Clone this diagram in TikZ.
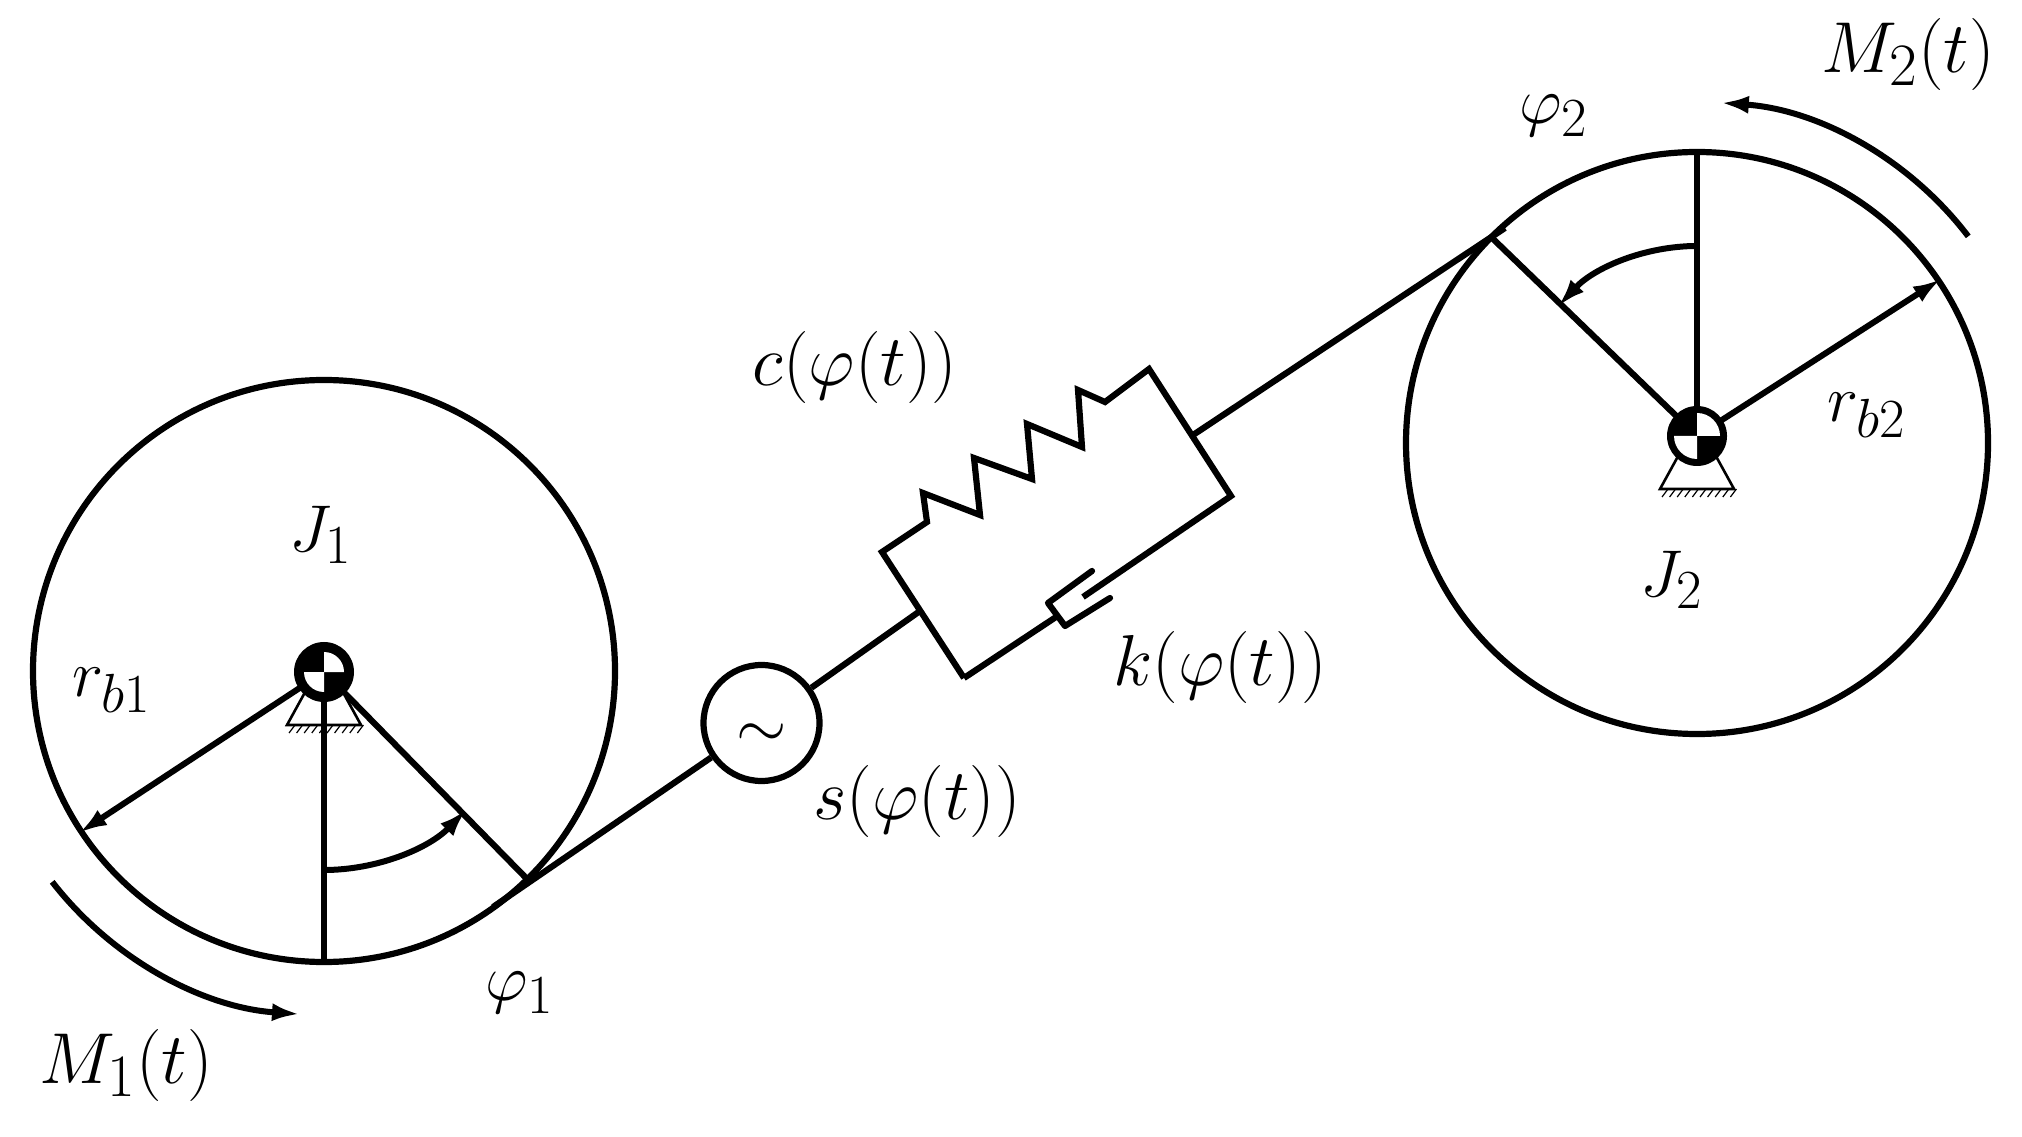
\documentclass[tikz,border=0pt]{standalone}
\usetikzlibrary{arrows.meta}
\newcommand{\RW}{291}
\newcommand{\RM}{344}
\tikzset{
    bar/.style={line width=3.1pt,line join=miter},
    tipline/.style={line width=3pt,-{Latex[length=14pt,width=9pt]}},
    thinline/.style={line width=0.6pt},
    lbl/.style={inner sep=0pt,font=\Huge,scale=1.33},
    lblwide/.style={lbl,scale=1.09},
    source/.style={circle,draw,fill=white,line width=3.1pt,minimum size=58pt,inner sep=0pt,font=\Huge,text height=24pt,text depth=0pt}
}

\begin{document}
\begin{tikzpicture}[x=0.5pt,y=0.5pt]
        \useasboundingbox (0,0) rectangle (2022,1136);
        \path (324,465) coordinate (W1);
        \path (1697,693) coordinate (W2);
        \path (324,464) coordinate (H1);
        \path (1697,700) coordinate (H2);

        \path (493,229) coordinate (T1);
        \path (1505,908) coordinate (T2);
        \path (79,303) coordinate (P1);
        \path (1941,857) coordinate (P2);
        \path (324,174) coordinate (V1);
        \path (1697,984) coordinate (V2);
        \path (530,254) coordinate (Q1);
        \path (1490,900) coordinate (Q2);

        \path (882,584) coordinate (A);
        \path (964,458) coordinate (B);
        \path (1231,640) coordinate (C);
        \path (1149,767) coordinate (D);
        \path (920,525) coordinate (JL);
        \path (1193,701) coordinate (JR);

        % wheels
        \draw [bar] (W1) circle (\RW);
        \draw [bar] (W2) circle (\RW);

        % radii
        \draw [bar] (H1) -- (V1);
        \draw [bar] (H1) -- (Q1);
        \draw [bar] (H2) -- (V2);
        \draw [bar] (H2) -- (Q2);
        \draw [tipline] (H1) -- (P1);
        \draw [tipline] (H2) -- (P2);

        % angles
        \draw [tipline] (H1) ++(-90:198) arc (-90:-44:198);
        \draw [tipline] (H2) ++(90:190) arc (90:137:190);

        % torques
        \draw [tipline] (W1) ++(217.8:\RM) arc (217.8:266:\RM);
        \draw [tipline] (W2) ++(37.3:341) arc (37.3:86:341);

        % supports and hubs
        \foreach \H in {H1,H2} {
            \draw [fill=white,line width=1.3pt] (\H) ++(-37,-53) -- ++(74,0) -- ++(-22,40) -- ++(-30,0) -- cycle;
            \foreach \X in {0,...,9} {
                \draw [thinline] (\H) ++(-29+\X*7.6,-53) -- ++(-6,-8);
            }
        }
        \draw [bar] (H1) -- (V1);
        \foreach \H/\Q in {H1/20,H2/23} {
            \fill (\H) circle (30);
            \fill [white] (\H) -- ++(\Q,0) arc (0:90:\Q) -- cycle;
            \fill [white] (\H) -- ++(-\Q,0) arc (180:270:\Q) -- cycle;
        }

        % belt
        \node [source] (S) at (761.5,413) {\scalebox{1.3}{$\sim$}};
        \draw [bar] (T1) -- (S);
        \draw [bar] (S) -- (JL);
        \draw [bar] (JR) -- (T2);

        % spring
        \draw [bar] (B) -- (A) -- (927,614) -- (923,643) -- (980,621) -- (974,678)
            -- (1032,657) -- (1027,712) -- (1082,689) -- (1078,746) -- (1105,734)
            -- (D) -- (C) -- (1083,539);

        % damper
        \draw [bar] (B) -- (1056,519);
        \draw [bar,line join=round,line cap=round] (1092,565) -- (1048,533) -- (1065,510) -- (1110,538);

        \node [lbl] (J1) at (321,601) {$J_1$};
        \node [lbl] (J2) at (1672,556) {$J_2$};
        \node [lbl] (RB1) at (112,446) {$r_{b1}$};
        \node [lbl] (RB2) at (1867,721) {$r_{b2}$};
        \node [lblwide] (M1) at (126,71) {$M_1(t)$};
        \node [lblwide] (M2) at (1908,1082) {$M_2(t)$};
        \node [lbl] (F1) at (520,143) {$\varphi_1$};
        \node [lbl] (F2) at (1554,1020) {$\varphi_2$};
        \node [lblwide] (LS) at (917,335) {$s(\varphi(t))$};
        \node [lblwide] (LC) at (855,769) {$c(\varphi(t))$};
        \node [lblwide] (LK) at (1220,469) {$k(\varphi(t))$};
    \end{tikzpicture}
\end{document}
